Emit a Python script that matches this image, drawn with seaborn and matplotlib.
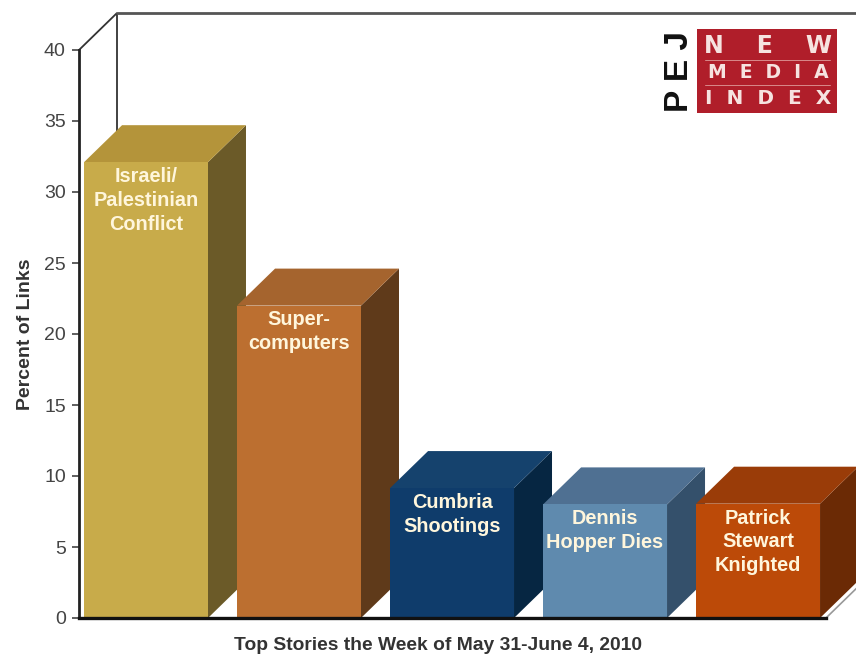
import matplotlib
matplotlib.use("Agg")
import matplotlib.pyplot as plt
from matplotlib.lines import Line2D
import pandas as pd
import seaborn as sns
from matplotlib.patches import Polygon, Rectangle

stories = ["Israeli/\nPalestinian\nConflict", "Super-\ncomputers", "Cumbria\nShootings",
           "Dennis\nHopper Dies", "Patrick\nStewart\nKnighted"]
percent = [32.1, 22, 9.15, 8, 8.05]
front_colors = ["#C8AB4A", "#BC6F30", "#0F3C6B", "#5F8AAE", "#BC4A08"]
top_colors = ["#B4943A", "#A5642E", "#15426D", "#4F7092", "#9A3C08"]
side_colors = ["#6B5A28", "#5F3A1A", "#062642", "#34506B", "#6B2A05"]
y_ticks = [0, 5, 10, 15, 20, 25, 30, 35, 40]

W, H = 856, 658
sns.set_style("white")
plt.rcParams["font.family"] = ["Liberation Sans", "DejaVu Sans"]

fig = plt.figure(figsize=(W / 100, H / 100), dpi=100, facecolor="white")
ax = fig.add_axes([79 / W, 1 - 618 / H, (826 - 79) / W, (618 - 50) / H])
df = pd.DataFrame({"story": stories, "percent": percent})
sns.barplot(data=df, x="story", y="percent", hue="story", palette=front_colors,
            saturation=1, width=0.81, legend=False, dodge=False, ax=ax)

x_lo, x_hi = -0.438, 4.444
ax.set_xlim(x_lo, x_hi)
ax.set_ylim(0, 40)
ax.set_yticks(y_ticks)
ax.set_xticks([])
ax.set_xlabel("")
ax.set_ylabel("")
ax.tick_params(axis="y", length=5, width=1.2, color="#444444", labelsize=14,
               labelcolor="#444444", pad=4.5, left=True)
sns.despine(ax=ax)
ax.spines["left"].set_linewidth(2)
ax.spines["left"].set_color("#222222")
ax.spines["bottom"].set_linewidth(2.4)
ax.spines["bottom"].set_color("#111111")
ax.spines["left"].set_zorder(20)
ax.spines["bottom"].set_zorder(20)

# depth of the fake 3D extrusion, expressed in data units
px_x = (x_hi - x_lo) / (826 - 79)
px_y = 40 / (618 - 50)
dx, dy = 38 * px_x, 37 * px_y

# back wall
ax.plot([x_lo, x_lo + dx, x_lo + dx], [40, 40 + dy, dy], color="#333333", lw=1.3,
        clip_on=False, zorder=1, solid_joinstyle="miter")
ax.plot([x_lo + dx, x_hi + 2 * dx], [40 + dy, 40 + dy], color="#555555", lw=2,
        clip_on=False, zorder=1)
ax.plot([x_hi, x_hi + dx], [0, dy], color="#999999", lw=1.2, clip_on=False, zorder=1)

bars = sorted(ax.patches, key=lambda p: p.get_x())
for i, (bar, label) in enumerate(zip(bars, stories)):
    x0, x1 = bar.get_x(), bar.get_x() + bar.get_width()
    v = bar.get_height()
    z = 3 + i
    bar.set_zorder(z + 0.2)
    bar.set_linewidth(0)
    ax.add_patch(Polygon([(x1, 0), (x1 + dx, dy), (x1 + dx, v + dy), (x1, v)],
                         closed=True, fc=side_colors[i], ec="none", clip_on=False, zorder=z))
    ax.add_patch(Polygon([(x0, v), (x0 + dx, v + dy), (x1 + dx, v + dy), (x1, v)],
                         closed=True, fc=top_colors[i], ec="none", clip_on=False, zorder=z))
    ax.annotate(label, xy=((x0 + x1) / 2, v), xytext=(0, -3.5), textcoords="offset points",
                ha="center", va="top", color="#FFF6DC", fontsize=14.3, fontweight="bold",
                linespacing=1.32, zorder=15, multialignment="center")

ax.text(-0.072, 0.5, "Percent of Links", transform=ax.transAxes, rotation=90, ha="center",
        va="center", fontsize=14, fontweight="bold", color="#333333")
fig.text(438 / W, 1 - 645 / H, "Top Stories the Week of May 31-June 4, 2010", ha="center",
         va="center", fontsize=13.9, fontweight="bold", color="#333333")

# logo
fig.add_artist(Rectangle((697 / W, 1 - 113 / H), 140 / W, 84 / H, fc="#B01E2A", ec="none",
                         transform=fig.transFigure))
logo_lines = [("N    E    W", 46, 17), ("M  E  D  I  A", 72, 13.5), ("I  N  D  E  X", 98, 14.5)]
for txt, yy, fs in logo_lines:
    fig.text(768 / W, 1 - yy / H, txt, ha="center", va="center", color="#F6E3E0",
             fontsize=fs, fontweight="bold", family="DejaVu Sans")
for yy in (60, 85):
    fig.add_artist(Line2D([705 / W, 830 / W], [1 - yy / H, 1 - yy / H], color="#D98A8A", lw=0.7))
fig.text(680 / W, 1 - 71 / H, "P E J", rotation=90, ha="center", va="center", color="#111111",
         fontsize=24, fontweight="bold")

fig.savefig("out.png", dpi=100, facecolor="white")
